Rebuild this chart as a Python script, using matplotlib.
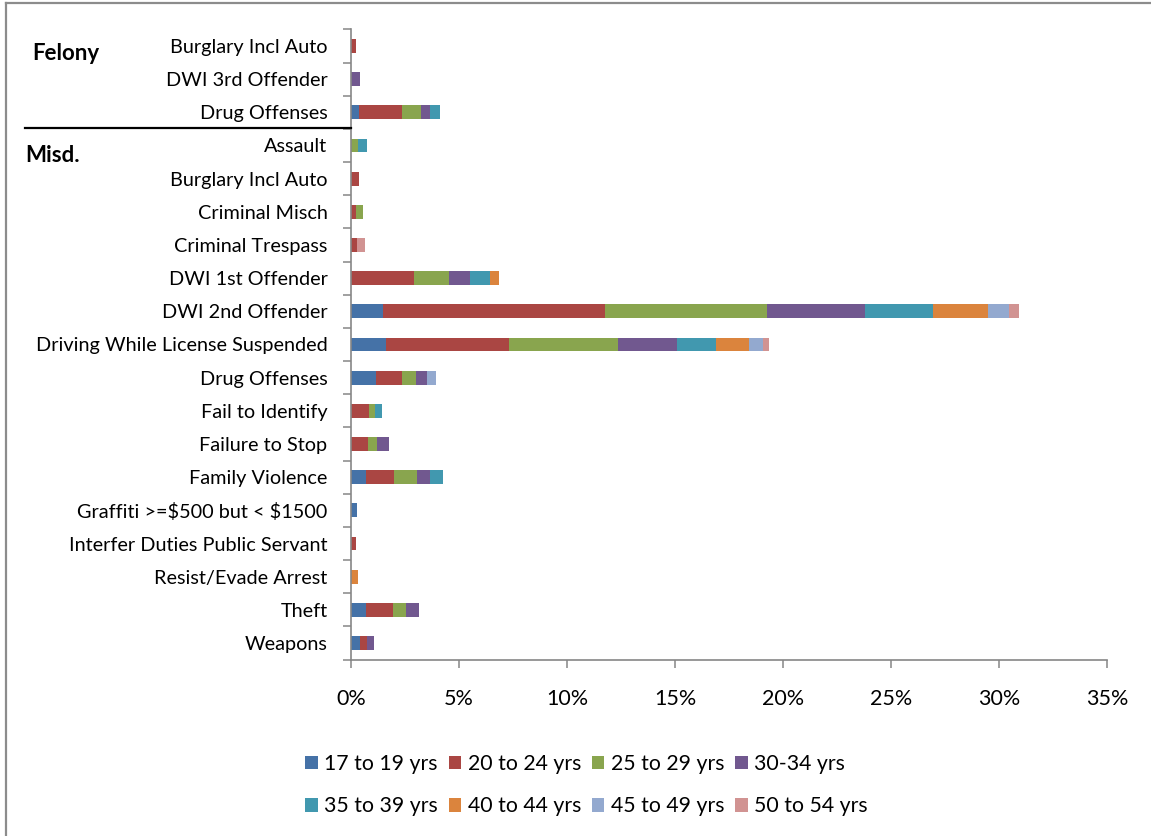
import numpy as np
import matplotlib
matplotlib.use("Agg")
import matplotlib.pyplot as plt
from matplotlib.lines import Line2D

plt.rcParams['font.family'] = ['Lato', 'DejaVu Sans']

categories = ["Burglary Incl Auto", "DWI 3rd Offender", "Drug Offenses",
              "Assault", "Burglary Incl Auto", "Criminal Misch", "Criminal Trespass",
              "DWI 1st Offender", "DWI 2nd Offender", "Driving While License Suspended",
              "Drug Offenses", "Fail to Identify", "Failure to Stop", "Family Violence",
              r"Graffiti >=\$500 but < \$1500", "Interfer Duties Public Servant",
              "Resist/Evade Arrest", "Theft", "Weapons"]

age_groups = ["17 to 19 yrs", "20 to 24 yrs", "25 to 29 yrs", "30-34 yrs",
              "35 to 39 yrs", "40 to 44 yrs", "45 to 49 yrs", "50 to 54 yrs"]

# percent of total, one list per age group, rows in category order
a17_19 = [0, 0, 0.39, 0, 0, 0, 0, 0, 1.50, 1.63, 1.16, 0, 0, 0.68, 0.29, 0, 0, 0.68, 0.40]
a20_24 = [0.25, 0, 1.97, 0, 0.36, 0.25, 0.29, 2.92, 10.24, 5.67, 1.20, 0.85, 0.79, 1.31, 0, 0.23, 0, 1.25, 0.34]
a25_29 = [0, 0, 0.88, 0.34, 0, 0.31, 0, 1.60, 7.50, 5.04, 0.66, 0.26, 0.43, 1.08, 0, 0, 0, 0.60, 0]
a30_34 = [0, 0.40, 0.43, 0, 0, 0, 0, 1.00, 4.56, 2.74, 0.50, 0, 0.54, 0.60, 0, 0, 0, 0.60, 0.31]
a35_39 = [0, 0, 0.43, 0.39, 0, 0, 0, 0.92, 3.14, 1.81, 0, 0.33, 0, 0.60, 0, 0, 0, 0, 0]
a40_44 = [0, 0, 0, 0, 0, 0, 0, 0.42, 2.57, 1.54, 0, 0, 0, 0, 0, 0, 0.34, 0, 0]
a45_49 = [0, 0, 0, 0, 0, 0, 0, 0, 0.93, 0.66, 0.43, 0, 0, 0, 0, 0, 0, 0, 0]
a50_54 = [0, 0, 0, 0, 0, 0, 0.34, 0, 0.50, 0.25, 0, 0, 0, 0, 0, 0, 0, 0, 0]

series = [a17_19, a20_24, a25_29, a30_34, a35_39, a40_44, a45_49, a50_54]
colors = ['#4572A7', '#AA4643', '#89A54E', '#71588F', '#4198AF', '#DB843D', '#93A9CF', '#D19392']

W, H = 1151, 836
fig = plt.figure(figsize=(W / 100, H / 100), dpi=100)
ax = fig.add_axes([351 / W, 1 - 659.6 / H, 756 / W, 630.2 / H])

y = np.arange(len(categories))
left = np.zeros(len(categories))
bars = []
for vals, lab, col in zip(series, age_groups, colors):
    vals = np.array(vals)
    bars.append(ax.barh(y, vals, left=left, height=0.42, color=col, label=lab, linewidth=0))
    left += vals

ax.set_ylim(len(categories) - 0.5, -0.5)
ax.set_xlim(0, 35)
ax.set_xticks(np.arange(0, 36, 5))
ax.set_xticklabels([f"{v}%" for v in range(0, 36, 5)])
ax.set_yticks(y)
ax.set_yticklabels(categories)
ax.set_yticks(np.arange(-0.5, len(categories), 1), minor=True)
ax.tick_params(axis='y', which='major', length=0, pad=17, labelsize=14.3)
ax.tick_params(axis='y', which='minor', length=6, width=1.1, color='#868686')
ax.tick_params(axis='x', length=6, width=1.1, color='#868686', pad=15, labelsize=15.5)

for s in ['top', 'right']:
    ax.spines[s].set_visible(False)
for s in ['left', 'bottom']:
    ax.spines[s].set_color('#868686')
    ax.spines[s].set_linewidth(1.2)

# group labels and separator
fig.text(32 / W, 1 - 53 / H, "Felony", fontsize=16, fontweight='bold', va='center')
fig.text(25 / W, 1 - 155 / H, "Misd.", fontsize=16, fontweight='bold', va='center')
fig.add_artist(Line2D([25 / W, 351 / W], [1 - 128 / H, 1 - 128 / H], color='black', lw=1.6))

# outer chart border (left and top)
fig.add_artist(Line2D([6 / W, 6 / W], [0, 1 - 3 / H], color='#8c8c8c', lw=1.6))
fig.add_artist(Line2D([6 / W, 1], [1 - 3 / H, 1 - 3 / H], color='#8c8c8c', lw=1.6))

# legend filled row by row (matplotlib fills columns first)
order = [0, 4, 1, 5, 2, 6, 3, 7]
fig.legend([bars[i] for i in order], [age_groups[i] for i in order],
           loc='upper left', bbox_to_anchor=(305 / W, 1 - 754 / H), ncol=4, frameon=False,
           fontsize=15.3, handlelength=0.6, handleheight=0.6, handletextpad=0.3,
           columnspacing=0.5, labelspacing=1.05, borderpad=0, borderaxespad=0)

fig.savefig("out.png", dpi=100, facecolor='white')
